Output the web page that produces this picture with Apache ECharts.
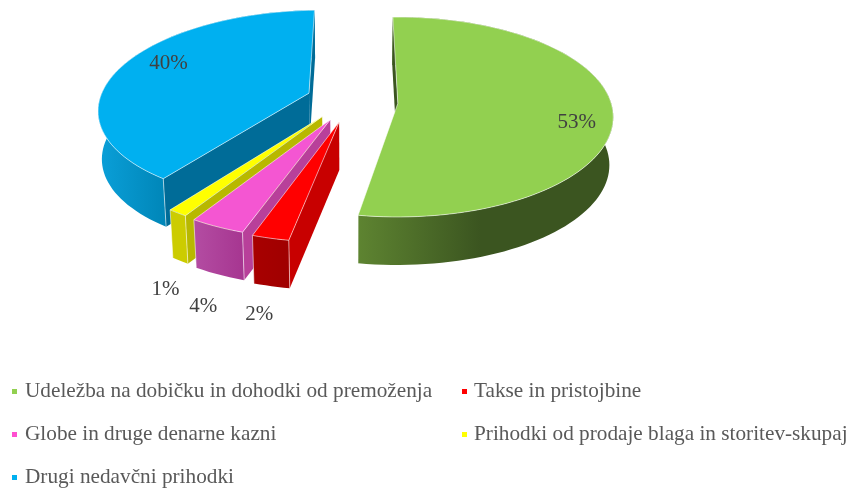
<!DOCTYPE html>
<html><head><meta charset="utf-8">
<style>html,body{margin:0;padding:0;background:#fff}#c{width:853px;height:490px}</style>
<script src="https://cdn.jsdelivr.net/npm/echarts@6/dist/echarts.min.js"></script>
</head><body><div id="c"></div>
<script>
const categories = ['Udeležba na dobičku in dohodki od premoženja','Takse in pristojbine','Globe in druge denarne kazni','Prihodki od prodaje blaga in storitev-skupaj','Drugi nedavčni prihodki'];
const values = [53, 2.4, 3.6, 1.3, 39.7];
const topColors = ['#92d050','#ff0000','#f456d2','#ffff00','#00b0f0'];
const legendColors = ['#92d050','#ff0000','#ff4fd0','#ffff00','#00b0f0'];
const rimFrom = ['#5e8431','#a80000','#b34ca2','#cccc00','#0a9fd8'];
const rimTo = ['#3b5520','#a00000','#a63590','#cccc00','#0086b8'];
const rimSpan = [[358,480],[252,288],[195,245],[170,190],[100,165]];
const cutColors = ['#3b5520','#c80000','#b8409a','#b8b800','#006c98'];
const labelNudge = [[-36,12],[-11,76],[-14,80],[-12,77],[47,-3]];
// fine placement of each slice in the pie plane: [du, dv, radius]
const sliceFit = [[0,0,1],[-0.008,0.005,1],[-0.012,0.015,1],[-0.022,0.03,1],[-0.01,0.03,0.985]];

// projection of the tilted pie plane
const P = {cx:353, cy:102, k:213, q:97.7, p:0.136, shear:6, explode:0.211, depth:48, shrink:0.015, start:-1.5};
const total = values.reduce((a,b)=>a+b,0);
const rad = d => d*Math.PI/180;
function project(u,v,h){
  const den = 1+P.p*v, s = 1-P.shrink*h;
  return [P.cx + (P.k*u+P.shear*v)/den*s, P.cy - P.q*v/den + P.depth*h];
}
function sliceAngles(i){
  let a = P.start;
  for(let j=0;j<i;j++) a += values[j]/total*360;
  return [a, a+values[i]/total*360];
}
const WHITE = 'rgba(255,255,255,0.55)';
function area(pts){
  let s=0;
  pts.forEach((p,i)=>{const n=pts[(i+1)%pts.length]; s+=p[0]*n[1]-n[0]*p[1];});
  return s;
}
function renderSlice(i){
  return function(params, api){
    const val = api.value(0);
    const [a0,a1] = sliceAngles(i);
    const mid = (a0+a1)/2;
    const [du,dv,R] = sliceFit[i];
    const ou = P.explode*Math.sin(rad(mid))+du, ov = P.explode*Math.cos(rad(mid))+dv;
    const pt = (a,h)=>project(ou+R*Math.sin(rad(a)), ov+R*Math.cos(rad(a)), h);
    const apex = h=>project(ou,ov,h);
    const N = Math.max(6, Math.ceil((a1-a0)/2));
    const topArc=[], botArc=[];
    for(let n=0;n<=N;n++){const a=a0+(a1-a0)*n/N; topArc.push(pt(a,0)); botArc.push(pt(a,1));}
    const kids=[];
    const poly=(points,fill,stroke)=>({type:'polygon',shape:{points},style:{fill,stroke:stroke||null,lineWidth:stroke?1:0}});
    kids.push(poly(topArc.concat(botArc.slice().reverse()),{type:'linear',x:rimSpan[i][0],y:0,x2:rimSpan[i][1],y2:0,global:true,
      colorStops:[{offset:0,color:rimFrom[i]},{offset:1,color:rimTo[i]}]}));
    const startFace=[apex(0),pt(a0,0),pt(a0,1),apex(1)];
    const endFace=[apex(0),pt(a1,0),pt(a1,1),apex(1)];
    if(area(startFace)<0) kids.push(poly(startFace,cutColors[i]));
    if(area(endFace)>0) kids.push(poly(endFace,cutColors[i]));
    [[pt(a0,0),pt(a0,1)],[pt(a1,0),pt(a1,1)]].forEach(l=>{
      if(l[0][1]>P.cy+40) kids.push({type:'line',shape:{x1:l[0][0],y1:l[0][1],x2:l[1][0],y2:l[1][1]},style:{stroke:WHITE,lineWidth:1}});
    });
    kids.push(poly([apex(0)].concat(topArc),topColors[i],WHITE));
    const anchor = pt(mid,0);
    kids.push({type:'text',style:{text:Math.round(val/total*100)+'%',x:anchor[0]+labelNudge[i][0],y:anchor[1]+labelNudge[i][1],
      font:'21px "Liberation Serif"',fill:'#404040',align:'center',verticalAlign:'middle'}});
    return {type:'group',children:kids};
  };
}
const legendBase = {orient:'vertical',icon:'rect',itemWidth:5,itemHeight:5,itemGap:22,selectedMode:false,padding:0,
  textStyle:{fontFamily:'"Liberation Serif"',fontSize:21.25,color:'#595959',padding:[0,0,0,3]}};
const chart = echarts.init(document.getElementById('c'),null,{renderer:'canvas'});
chart.setOption({
  animation:false,backgroundColor:'#fff',
  legend:[
    Object.assign({},legendBase,{left:12,top:381,data:[categories[0],categories[2],categories[4]]}),
    Object.assign({},legendBase,{left:462,top:381,data:[categories[1],categories[3]],
      textStyle:Object.assign({},legendBase.textStyle,{padding:[0,0,0,2]})})
  ],
  series:categories.map((name,i)=>({
    type:'custom',name,coordinateSystem:'none',z:3+categories.length-i,
    itemStyle:{color:legendColors[i]},
    renderItem:renderSlice(i),data:[[values[i]]],silent:true
  }))
});
</script></body></html>
